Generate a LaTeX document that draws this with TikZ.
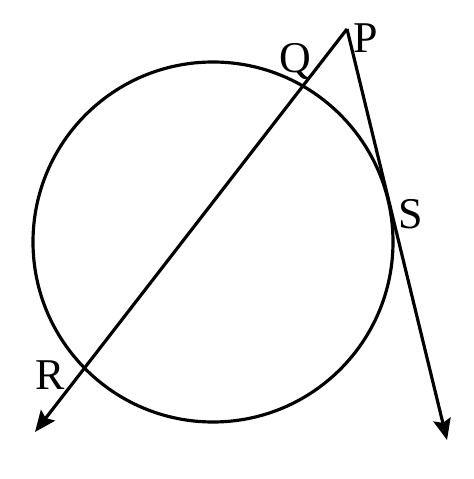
\documentclass[tikz,border=0pt]{standalone}
\usepackage{fontspec}
\setmainfont{Liberation Serif}
\usetikzlibrary{arrows.meta}

\begin{document}
\begin{tikzpicture}[line width=1.8pt,
  lbl/.style={font=\fontsize{25}{30}\selectfont, inner sep=0pt},
  >={Stealth[length=12pt, width=10pt, inset=2pt]}]
\useasboundingbox (0, 0) rectangle (9.48, 9.58);
\coordinate (O) at (4.26, 4.74);
\coordinate (P) at (6.94, 9.0);
\coordinate (L) at (0.70, 0.94);
\coordinate (T) at (8.94, 0.78);

\draw (O) circle (3.6);
\draw[->] (P) -- (L);
\draw[->] (P) -- (T);

\node[lbl] (p) at (7.32, 8.82) {P};
\node[lbl] (q) at (5.90, 8.34) {Q};
\node[lbl] (s) at (8.22, 5.30) {S};
\node[lbl] (r) at (1.00, 2.08) {R};
\end{tikzpicture}
\end{document}
